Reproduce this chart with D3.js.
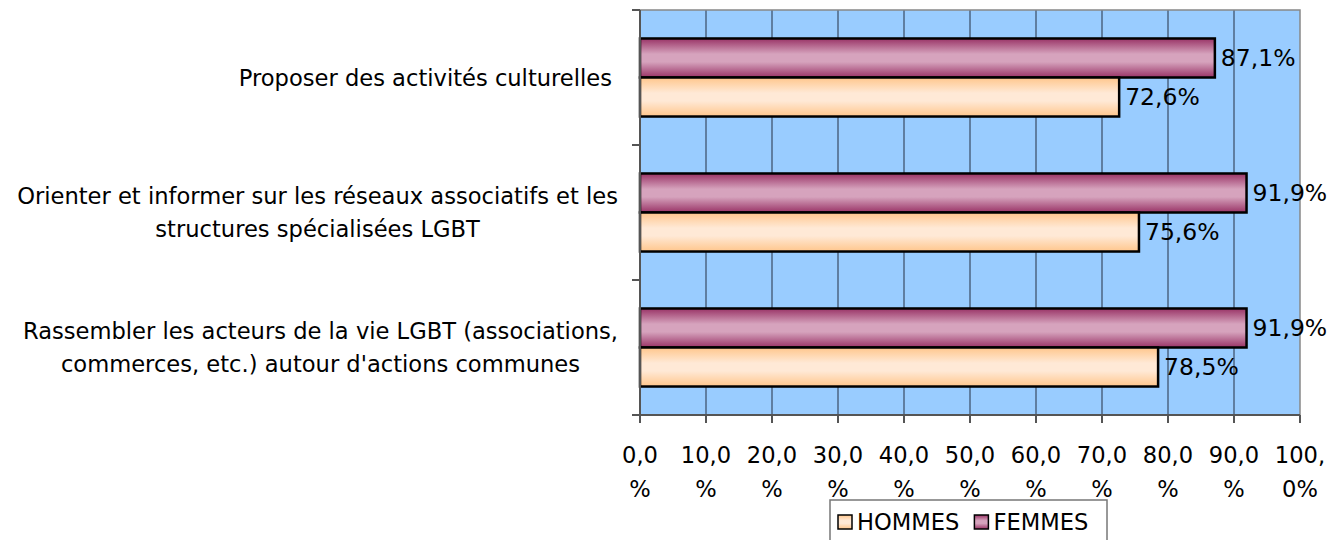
<!DOCTYPE html>
<html>
<head>
<meta charset="utf-8">
<title>Actions LGBT</title>
<script src="https://d3js.org/d3.v7.min.js"></script>
<style>
  body { margin: 0; background: #fff; }
  text { font-family: "DejaVu Sans", Verdana, sans-serif; fill: #000; }
</style>
</head>
<body>
<script>
// data
const categories = [
  ["Proposer des activités culturelles"],
  ["Orienter et informer sur les réseaux associatifs et les", "structures spécialisées LGBT"],
  ["Rassembler les acteurs de la vie LGBT (associations,", "commerces, etc.) autour d'actions communes"]
];
const series = ["FEMMES", "HOMMES"];
const femmes = [87.1, 91.9, 91.9];
const hommes = [72.6, 75.6, 78.5];
const tickValues = [0, 10, 20, 30, 40, 50, 60, 70, 80, 90, 100];
const tickLabels = [
  ["0,0", "%"], ["10,0", "%"], ["20,0", "%"], ["30,0", "%"], ["40,0", "%"], ["50,0", "%"],
  ["60,0", "%"], ["70,0", "%"], ["80,0", "%"], ["90,0", "%"], ["100,", "0%"]
];
const legendOrder = ["HOMMES", "FEMMES"];

const w = 1334, h = 540;
const svg = d3.select("body").append("svg").attr("width", w).attr("height", h);

const defs = svg.append("defs");
function grad(id, edge, mid) {
  const g = defs.append("linearGradient").attr("id", id).attr("x1", 0).attr("y1", 0).attr("x2", 0).attr("y2", 1);
  g.append("stop").attr("offset", "0%").attr("stop-color", edge);
  g.append("stop").attr("offset", "40%").attr("stop-color", mid);
  g.append("stop").attr("offset", "60%").attr("stop-color", mid);
  g.append("stop").attr("offset", "100%").attr("stop-color", edge);
}
grad("gF", "#993366", "#d6a3bd");
grad("gH", "#ffc68c", "#ffe9d6");
const fills = { FEMMES: "url(#gF)", HOMMES: "url(#gH)" };

const x = d3.scaleLinear().domain([0, 100]).range([640, 1300]);
const y = d3.scaleBand().domain(d3.range(categories.length)).range([10, 415]);
const ySub = d3.scaleBand().domain(series).range([0, y.bandwidth()]).paddingOuter(0.73);

// plot background
svg.append("rect").attr("x", x(0)).attr("y", 10).attr("width", x(100) - x(0)).attr("height", 405)
  .attr("fill", "#99ccff");

// vertical grid
svg.append("g").selectAll("line").data(tickValues.slice(1, -1)).join("line")
  .attr("x1", d => x(d)).attr("x2", d => x(d)).attr("y1", 10).attr("y2", 415)
  .attr("stroke", "#4d6482").attr("stroke-width", 1.5);

// border top/right
svg.append("path").attr("d", `M${x(0)},10H${x(100)}V415`).attr("fill", "none")
  .attr("stroke", "#888").attr("stroke-width", 1.5);

// bars
const rows = categories.map((c, i) => ({ i, FEMMES: femmes[i], HOMMES: hommes[i] }));
const g = svg.append("g").selectAll("g").data(rows).join("g")
  .attr("transform", d => `translate(0,${y(d.i)})`);
g.selectAll("rect").data(d => series.map(s => ({ s, v: d[s] }))).join("rect")
  .attr("x", x(0)).attr("y", d => ySub(d.s)).attr("width", d => x(d.v) - x(0))
  .attr("height", ySub.bandwidth()).attr("fill", d => fills[d.s])
  .attr("stroke", "#000").attr("stroke-width", 2.5);
g.selectAll("text.val").data(d => series.map(s => ({ s, v: d[s] }))).join("text")
  .attr("class", "val")
  .attr("x", d => x(d.v) + 6).attr("y", d => ySub(d.s) + ySub.bandwidth() / 2)
  .attr("dy", "0.36em").style("font-size", "23.5px")
  .text(d => d3.format(".1f")(d.v).replace(".", ",") + "%");

// left axis
const axL = svg.append("g").attr("stroke", "#555").attr("stroke-width", 2);
axL.append("line").attr("x1", x(0)).attr("x2", x(0)).attr("y1", 10).attr("y2", 415);
axL.selectAll("line.t").data(d3.range(categories.length + 1)).join("line").attr("class", "t")
  .attr("x1", x(0) - 8).attr("x2", x(0))
  .attr("y1", d => d < categories.length ? y(d) : 415).attr("y2", d => d < categories.length ? y(d) : 415);

// bottom axis
const axB = svg.append("g").attr("stroke", "#555").attr("stroke-width", 2);
axB.append("line").attr("x1", x(0) - 8).attr("x2", x(100)).attr("y1", 415).attr("y2", 415);
axB.selectAll("line.t").data(tickValues).join("line").attr("class", "t")
  .attr("x1", d => x(d)).attr("x2", d => x(d)).attr("y1", 415).attr("y2", 423);

const tl = svg.append("g").selectAll("text").data(tickValues).join("text")
  .attr("text-anchor", "middle").style("font-size", "22.6px")
  .attr("transform", d => `translate(${x(d)},0)`);
tl.selectAll("tspan").data((d, i) => tickLabels[i]).join("tspan")
  .attr("x", 0).attr("y", (d, j) => 463 + j * 34).text(d => d);

// category labels
const cl = svg.append("g").selectAll("text").data(categories).join("text")
  .style("font-size", "22.6px").attr("text-anchor", "middle");
cl.each(function (lines, i) {
  const t = d3.select(this);
  const sp = t.selectAll("tspan").data(lines).join("tspan").text(d => d);
  let maxW = 0;
  sp.each(function () { maxW = Math.max(maxW, this.getComputedTextLength()); });
  const right = lines.length === 1 ? 612 : 618;
  const cx = right - maxW / 2;
  const cy = y(i) + y.bandwidth() / 2;
  sp.attr("x", cx).attr("y", (d, j) => cy + (j - (lines.length - 1) / 2) * 33).attr("dy", "0.36em");
});

// legend
const lg = svg.append("g");
lg.append("rect").attr("x", 830).attr("y", 500).attr("width", 277).attr("height", 50)
  .attr("fill", "#fff").attr("stroke", "#777").attr("stroke-width", 1.5);
let lx = 838;
legendOrder.forEach(s => {
  lg.append("rect").attr("x", lx).attr("y", 515).attr("width", 14).attr("height", 14)
    .attr("fill", fills[s]).attr("stroke", "#000").attr("stroke-width", 1.5);
  const t = lg.append("text").attr("x", lx + 19).attr("y", 522).attr("dy", "0.36em")
    .style("font-size", "22.6px").text(s);
  lx += 19 + t.node().getComputedTextLength() + 15;
});
</script>
</body>
</html>
